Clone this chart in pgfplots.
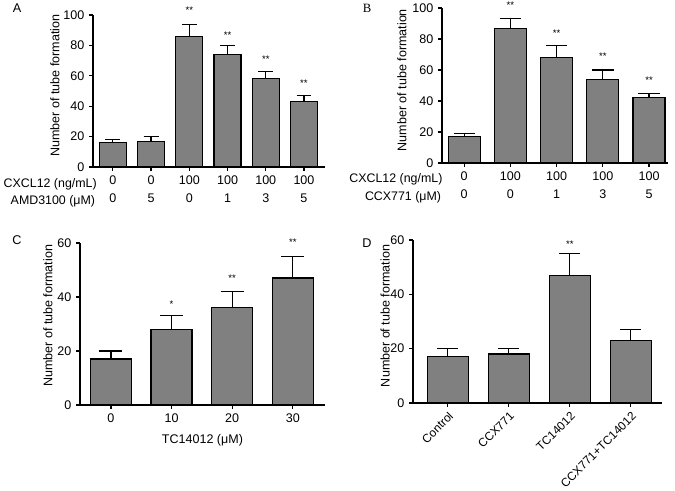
\documentclass[border=0pt]{standalone}
\usepackage{fontspec}
\setmainfont{Liberation Sans}
\newfontfamily\serifB{Liberation Serif}
\usepackage{pgfplots}
\pgfplotsset{compat=1.18}
\pgfplotsset{
  panel/.style={
    scale only axis, anchor=south west,
    axis x line*=bottom, axis y line*=left,
    ymin=0, clip=false, ybar,
    tick align=outside, major tick length=3pt,
    every tick/.style={black, line width=0.9pt},
    axis line style={line width=0.9pt},
    tick label style={font=\fontsize{9.4}{13.5}\selectfont},
    label style={font=\fontsize{9.4}{11}\selectfont},
    /pgf/number format/assume math mode=true,
    minor tick num=0,
    error bars/y dir=plus, error bars/y explicit,
    error bars/error bar style={line width=0.9pt, black},
  },
  barstyle/.style={draw=black, line width=0.9pt, fill=black!50},
}
\tikzset{starlbl/.style={font=\fontsize{7.2}{7}\selectfont, inner sep=0pt},
  rowlbl/.style={anchor=base east, inner sep=0pt, font=\fontsize{9.3}{11}\selectfont}}
\begin{document}
\begin{tikzpicture}
\path[use as bounding box] (0,0) rectangle (506.25pt,368.25pt);
% ---------------- A
\begin{axis}[panel, at={(69.75pt,243pt)}, width=174pt, height=114pt,
  xmin=-0.52, xmax=5.55, ymax=100, ytick={0,20,...,100},
  xtick={0,...,5}, xticklabels={0\\0,0\\5,100\\0,100\\1,100\\3,100\\5},
  xticklabel style={align=center},
  bar width=20.25pt,
  error bars/error mark options={rotate=90, line width=0.9pt, black, mark size=5.6pt},
  ylabel={Number of tube formation},
  ylabel style={at={(axis description cs:-0.164,0.536)}, anchor=center}]
\addplot[barstyle] coordinates {(0,16) +- (0,2) (1,17) +- (0,3) (2,86) +- (0,8) (3,74) +- (0,6) (4,58) +- (0,5) (5,43) +- (0,4)};
\node[starlbl] at (axis cs:2,103) {**};
\node[starlbl] at (axis cs:3,87) {**};
\node[starlbl] at (axis cs:4,71) {**};
\node[starlbl] at (axis cs:5,55) {**};
\end{axis}
\node[rowlbl] at (72.75pt,227.5pt) {CXCL12 (ng/mL)};
\node[rowlbl] at (71.5pt,214.5pt) {AMD3100 (μM)};
\node[font=\fontsize{9.5}{11}\selectfont] at (12.75pt,362.25pt) {A};
% ---------------- B
\begin{axis}[panel, at={(331.5pt,246pt)}, width=169.5pt, height=116.25pt,
  xmin=-0.48, xmax=4.41, ymax=100, ytick={0,20,...,100},
  xtick={0,...,4}, xticklabels={0\\0,100\\0,100\\1,100\\3,100\\5},
  xticklabel style={align=center},
  bar width=24pt,
  error bars/error mark options={rotate=90, line width=0.9pt, black, mark size=8pt},
  ylabel={Number of tube formation},
  ylabel style={at={(axis description cs:-0.177,0.535)}, anchor=center}]
\addplot[barstyle] coordinates {(0,17) +- (0,2) (1,87) +- (0,6) (2,68) +- (0,8) (3,54) +- (0,6) (4,42) +- (0,3)};
\node[starlbl] at (axis cs:1,102) {**};
\node[starlbl] at (axis cs:2,84) {**};
\node[starlbl] at (axis cs:3,69) {**};
\node[starlbl] at (axis cs:4,53.5) {**};
\end{axis}
\node[rowlbl] at (332pt,231pt) {CXCL12 (ng/mL)};
\node[rowlbl] at (331pt,217.5pt) {CCX771 (μM)};
\node[font=\serifB\fontsize{9.5}{11}\selectfont] at (275.25pt,362.25pt) {B};
% ---------------- C
\begin{axis}[panel, at={(60pt,64.5pt)}, width=183.75pt, height=121.5pt,
  xmin=-0.51, xmax=3.53, ymax=60, ytick={0,20,...,60},
  xtick={0,...,3}, xticklabels={0,10,20,30},
  bar width=30.75pt,
  error bars/error mark options={rotate=90, line width=0.9pt, black, mark size=8.6pt},
  xlabel={TC14012 (μM)},
  xlabel style={yshift=-2pt},
  ylabel={Number of tube formation},
  ylabel style={at={(axis description cs:-0.131,0.55)}, anchor=center}]
\addplot[barstyle] coordinates {(0,17) +- (0,3) (1,28) +- (0,5) (2,36) +- (0,6) (3,47) +- (0,8)};
\node[starlbl] at (axis cs:1,37.4) {*};
\node[starlbl] at (axis cs:2,47) {**};
\node[starlbl] at (axis cs:3,60.4) {**};
\end{axis}
\node[font=\fontsize{9.5}{11}\selectfont] at (12.75pt,188.25pt) {C};
% ---------------- D
\begin{axis}[panel, at={(309.75pt,66pt)}, width=186.75pt, height=122.25pt,
  xmin=-0.57, xmax=3.51, ymax=60, ytick={0,20,...,60},
  xtick={0,...,3}, xticklabels={Control,CCX771,TC14012,CCX771+TC14012},
  xticklabel style={rotate=45, anchor=north east, inner sep=2pt, font=\fontsize{8.9}{10}\selectfont},
  bar width=30.75pt,
  error bars/error mark options={rotate=90, line width=0.9pt, black, mark size=7.9pt},
  ylabel={Number of tube formation},
  ylabel style={at={(axis description cs:-0.112,0.534)}, anchor=center}]
\addplot[barstyle] coordinates {(0,17) +- (0,3) (1,18) +- (0,2) (2,47) +- (0,8) (3,23) +- (0,4)};
\node[starlbl] at (axis cs:2,58.5) {**};
\end{axis}
\node[font=\fontsize{9.5}{11}\selectfont] at (275.25pt,186pt) {D};
\end{tikzpicture}
\end{document}
